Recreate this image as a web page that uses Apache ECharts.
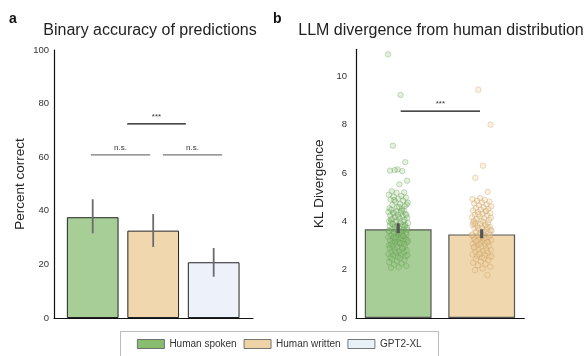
<!DOCTYPE html>
<html>
<head>
<meta charset="utf-8">
<script src="https://cdn.jsdelivr.net/npm/echarts@6/dist/echarts.min.js"></script>
<style>
html,body{margin:0;padding:0;background:#fff;}
#chart{width:586px;height:356px;}
</style>
</head>
<body>
<div id="chart"></div>
<script>
// ---------- data ----------
const seriesNames = ['Human spoken', 'Human written', 'GPT2-XL'];
// Panel a: binary accuracy (percent correct)
const accMeans = [37.6, 32.6, 20.8];
const accLow   = [31.6, 26.5, 15.4];
const accHigh  = [44.3, 38.8, 26.1];
const accTicks = [0, 20, 40, 60, 80, 100];
// significance brackets panel a: [x start, x end, y, label]
const sigA_x1 = [-0.03, 1.16, 0.57];
const sigA_x2 = [0.95, 2.14, 1.54];
const sigA_y  = [60.9, 60.9, 72.4];
const sigA_lab = ['n.s.', 'n.s.', '***'];

// Panel b: KL divergence
const klMeans = [3.67, 3.46];
const klLow   = [3.51, 3.30];
const klHigh  = [3.92, 3.67];
const klTicks = [0, 2, 4, 6, 8, 10];
const sigB_x1 = [0.03];
const sigB_x2 = [0.98];
const sigB_y  = [8.56];
const sigB_lab = ['***'];

const klSpoken = [10.91, 9.23, 7.13, 6.45, 6.15, 6.10, 6.08, 6.12, 5.68, 5.53, 5.25, 5.20, 5.18, 5.10, 5.05, 5.02, 4.98,
  4.94, 4.90, 4.86, 4.81, 4.77, 4.72, 4.68, 4.63, 4.58, 4.54, 4.51, 4.88, 4.70, 4.60,
  4.48, 4.45, 4.42, 4.39, 4.36, 4.33, 4.30, 4.27, 4.24, 4.21, 4.18, 4.15, 4.12, 4.09, 4.06, 4.03, 4.01, 4.44, 4.35, 4.26, 4.17, 4.08,
  3.98, 3.96, 3.93, 3.91, 3.88, 3.86, 3.83, 3.81, 3.78, 3.76, 3.73, 3.71, 3.68, 3.66, 3.63, 3.61, 3.58, 3.56, 3.53, 3.51, 3.95, 3.85, 3.75, 3.65, 3.55, 3.90, 3.80, 3.70, 3.60, 3.52,
  3.49, 3.46, 3.44, 3.41, 3.39, 3.36, 3.34, 3.31, 3.29, 3.26, 3.24, 3.21, 3.19, 3.16, 3.14, 3.11, 3.09, 3.06, 3.04, 3.01, 3.45, 3.35, 3.25, 3.15, 3.05, 3.40, 3.30, 3.20, 3.10,
  2.98, 2.95, 2.92, 2.89, 2.86, 2.83, 2.80, 2.77, 2.74, 2.71, 2.68, 2.65, 2.62, 2.59, 2.56, 2.53, 2.51, 2.90, 2.75, 2.60,
  2.48, 2.44, 2.40, 2.36, 2.31, 2.26, 2.21, 2.15, 2.10, 2.08];
const klWritten = [9.45, 8.00, 6.30, 5.80, 5.22, 4.96, 4.92, 4.88, 4.85, 4.82, 4.78, 4.74, 4.70, 4.66, 4.62, 4.58, 4.55, 4.52,
  4.48, 4.45, 4.41, 4.38, 4.34, 4.31, 4.27, 4.24, 4.20, 4.17, 4.13, 4.10, 4.06, 4.03, 4.01, 4.43, 4.29, 4.15,
  3.98, 3.95, 3.92, 3.89, 3.86, 3.83, 3.80, 3.77, 3.74, 3.71, 3.68, 3.65, 3.62, 3.59, 3.56, 3.53, 3.51, 3.94, 3.84, 3.72, 3.63, 3.54, 3.88, 3.76,
  3.49, 3.46, 3.43, 3.40, 3.37, 3.34, 3.31, 3.28, 3.25, 3.22, 3.19, 3.16, 3.13, 3.10, 3.07, 3.04, 3.01, 3.45, 3.35, 3.24, 3.14, 3.05, 3.42, 3.30, 3.18,
  2.98, 2.95, 2.91, 2.88, 2.84, 2.81, 2.77, 2.74, 2.70, 2.67, 2.63, 2.60, 2.56, 2.53, 2.51, 2.93, 2.79, 2.65, 2.55,
  2.47, 2.43, 2.39, 2.34, 2.29, 2.24, 2.18, 2.12, 2.05, 1.98, 1.78];

// ---------- style ----------
const FONT = 'Liberation Sans, Arial, Helvetica, sans-serif';
const barColors = ['#a7ce97', '#f0d7ae', '#edf2fa'];
const legendColors = ['#88bd70', '#eed3a6', '#e9f1f8'];

// deterministic horizontal spread for strip points (layout only)
function jitter(i) { return (((i * 0.61803398875) % 1) - 0.5) * 0.24; }

const chart = echarts.init(document.getElementById('chart'), null, {renderer: 'canvas'});

function errRender(params, api) {
  const p1 = api.coord([api.value(0), api.value(1)]);
  const p2 = api.coord([api.value(0), api.value(2)]);
  return {type: 'line', shape: {x1: p1[0], y1: p1[1], x2: p2[0], y2: p2[1]},
    style: {stroke: api.visual('color'), lineWidth: api.value(3)}};
}

function sigRender(labels) {
  return function (params, api) {
    const p1 = api.coord([api.value(0), api.value(2)]);
    const p2 = api.coord([api.value(1), api.value(2)]);
    const lab = labels[params.dataIndex];
    const col = lab === '***' ? '#111' : '#777';
    return {type: 'group', children: [
      {type: 'line', shape: {x1: p1[0], y1: p1[1], x2: p2[0], y2: p2[1]}, style: {stroke: col, lineWidth: 1.2}},
      {type: 'text', style: {text: lab, x: (p1[0] + p2[0]) / 2, y: p1[1] - 3, textAlign: 'center', textVerticalAlign: 'bottom',
        font: '8px ' + FONT, fill: '#333'}}
    ]};
  };
}

const series = [];
// panel a bars
seriesNames.forEach((n, i) => {
  series.push({name: n, type: 'bar', xAxisIndex: 0, yAxisIndex: 0, barWidth: 51.7, barGap: '-100%',
    data: [[i, accMeans[i]]],
    itemStyle: {color: barColors[i], borderColor: '#222', borderWidth: 1}, silent: true, z: 2});
});
// panel b bars
[0, 1].forEach(i => {
  series.push({name: seriesNames[i], type: 'bar', xAxisIndex: 1, yAxisIndex: 1, barWidth: 66.8, barGap: '-100%',
    data: [[i, klMeans[i]]],
    itemStyle: {color: barColors[i], borderColor: '#555', borderWidth: 1.2}, silent: true, z: 2});
});
// panel b strip points
series.push({name: 'spoken points', type: 'scatter', xAxisIndex: 1, yAxisIndex: 1, symbolSize: 5.5,
  data: klSpoken.map((v, i) => [0 + jitter(i), v]),
  itemStyle: {color: 'rgba(140,195,118,0.3)', borderColor: 'rgba(95,150,75,0.5)', borderWidth: 0.8}, silent: true, z: 3});
series.push({name: 'written points', type: 'scatter', xAxisIndex: 1, yAxisIndex: 1, symbolSize: 5.5,
  data: klWritten.map((v, i) => [1 + jitter(i + 7), v]),
  itemStyle: {color: 'rgba(240,208,155,0.35)', borderColor: 'rgba(195,155,95,0.55)', borderWidth: 0.8}, silent: true, z: 3});
// error bars
series.push({name: 'errA', type: 'custom', xAxisIndex: 0, yAxisIndex: 0, silent: true, z: 5,
  itemStyle: {color: '#6b6b6b'},
  data: accMeans.map((m, i) => [i, accLow[i], accHigh[i], 1.8]), renderItem: errRender});
series.push({name: 'errB', type: 'custom', xAxisIndex: 1, yAxisIndex: 1, silent: true, z: 5,
  itemStyle: {color: '#555'},
  data: klMeans.map((m, i) => [i, klLow[i], klHigh[i], 3.2]), renderItem: errRender});
// significance brackets
series.push({name: 'sigA', type: 'custom', xAxisIndex: 0, yAxisIndex: 0, silent: true, z: 5,
  data: sigA_x1.map((x, i) => [x, sigA_x2[i], sigA_y[i]]), renderItem: sigRender(sigA_lab)});
series.push({name: 'sigB', type: 'custom', xAxisIndex: 1, yAxisIndex: 1, silent: true, z: 5,
  data: sigB_x1.map((x, i) => [x, sigB_x2[i], sigB_y[i]]), renderItem: sigRender(sigB_lab)});

const yLabel = {fontSize: 9.5, color: '#333', fontFamily: FONT};
const axisLineStyle = {show: true, onZero: false, lineStyle: {color: '#111', width: 1.2}};

chart.setOption({
  animation: false,
  backgroundColor: '#fff',
  textStyle: {fontFamily: FONT},
  grid: [
    {left: 54, top: 50, width: 199, height: 268},
    {left: 356, top: 49.3, width: 168.3, height: 268.7}
  ],
  xAxis: [
    {gridIndex: 0, type: 'value', min: -0.64, max: 2.65, axisLine: axisLineStyle, axisTick: {show: false}, axisLabel: {show: false}, splitLine: {show: false}},
    {gridIndex: 1, type: 'value', min: -0.505, max: 1.51, axisLine: axisLineStyle, axisTick: {show: false}, axisLabel: {show: false}, splitLine: {show: false}}
  ],
  yAxis: [
    {gridIndex: 0, type: 'value', min: accTicks[0], max: accTicks[accTicks.length - 1], interval: accTicks[1] - accTicks[0],
      axisLine: axisLineStyle, axisTick: {show: false}, splitLine: {show: false},
      axisLabel: Object.assign({margin: 5}, yLabel),
      name: 'Percent correct', nameLocation: 'middle', nameGap: 27, nameRotate: 90,
      nameTextStyle: {fontSize: 13.5, color: '#222', fontFamily: FONT}},
    {gridIndex: 1, type: 'value', min: 0, max: 11.12, interval: klTicks[1] - klTicks[0],
      axisLine: axisLineStyle, axisTick: {show: false}, splitLine: {show: false},
      axisLabel: Object.assign({margin: 9, showMaxLabel: false, formatter: v => klTicks.indexOf(v) >= 0 ? String(v) : ''}, yLabel),
      name: 'KL Divergence', nameLocation: 'middle', nameGap: 30, nameRotate: 90,
      nameTextStyle: {fontSize: 13.5, color: '#222', fontFamily: FONT}}
  ],
  legend: {
    left: 120, top: 331, orient: 'horizontal',
    padding: [8, 15, 8, 17], itemGap: 7, itemWidth: 27, itemHeight: 9,
    icon: 'rect', selectedMode: false, z: 10,
    textStyle: {fontSize: 10, color: '#333', fontFamily: FONT},
    data: seriesNames.map((n, i) => ({name: n, itemStyle: {color: legendColors[i], borderColor: '#555', borderWidth: 0.8}}))
  },
  graphic: [
    {type: 'rect', left: 120, top: 331, z: 1, shape: {width: 318, height: 40}, style: {fill: '#fff', stroke: '#bbb', lineWidth: 1}},
    {type: 'text', x: 9, y: 12, style: {text: 'a', font: 'bold 14px ' + FONT, fill: '#111'}},
    {type: 'text', x: 273, y: 12, style: {text: 'b', font: 'bold 14px ' + FONT, fill: '#111'}},
    {type: 'text', x: 150, y: 31, style: {text: 'Binary accuracy of predictions', font: '16px ' + FONT, fill: '#222', textAlign: 'center', textVerticalAlign: 'middle'}},
    {type: 'text', x: 441, y: 31, style: {text: 'LLM divergence from human distribution', font: '16px ' + FONT, fill: '#222', textAlign: 'center', textVerticalAlign: 'middle'}}
  ],
  series: series
});
</script>
</body>
</html>
